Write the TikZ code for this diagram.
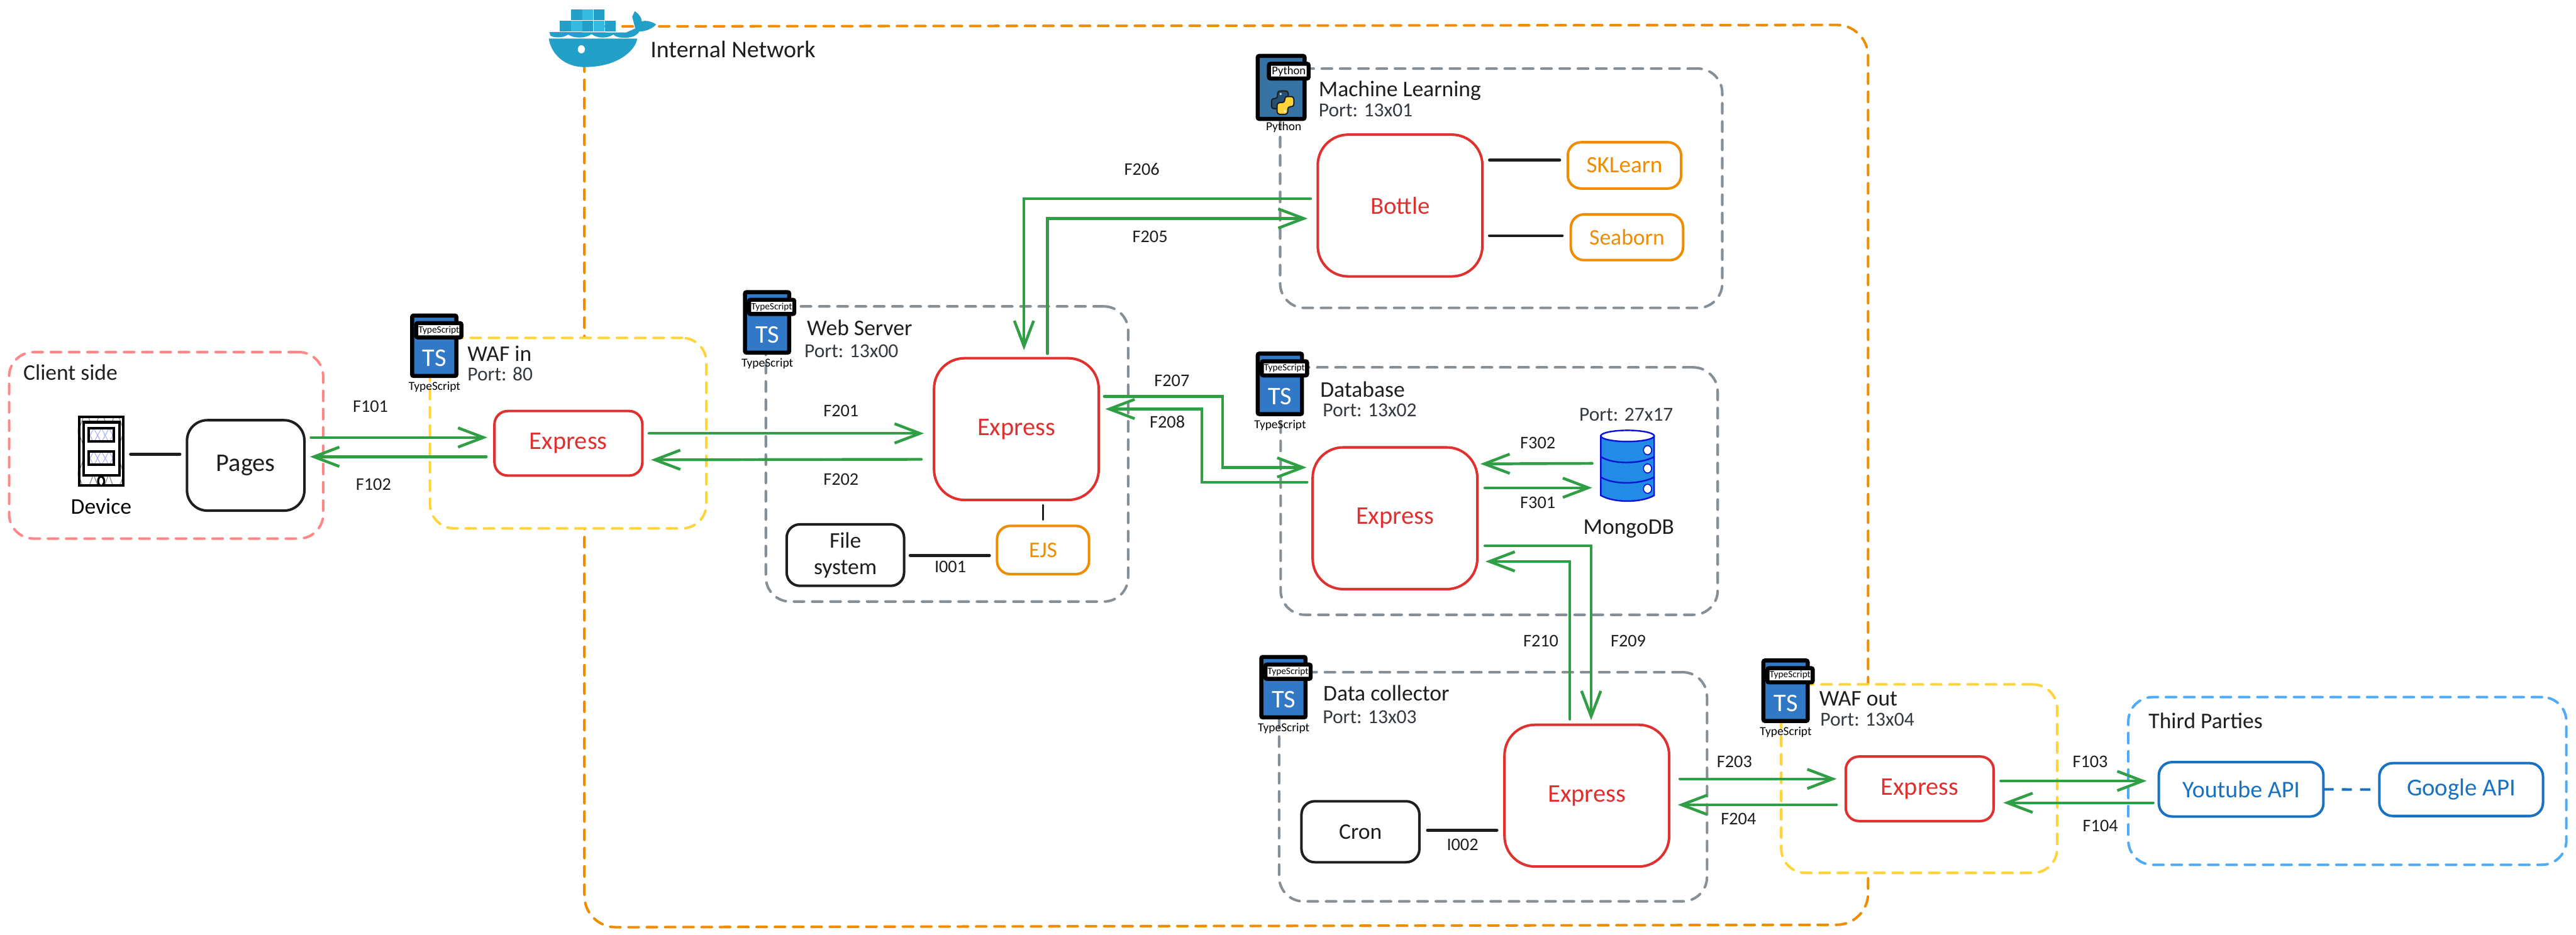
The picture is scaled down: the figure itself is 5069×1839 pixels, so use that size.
\documentclass[tikz,border=0pt]{standalone}
\usepackage{fontspec}
\setmainfont{Carlito}
\usetikzlibrary{arrows.meta}
\definecolor{ink}{HTML}{1E1E1E}
\definecolor{portink}{HTML}{343A40}
\definecolor{flowgreen}{HTML}{2F9E44}
\definecolor{exred}{HTML}{E03131}
\definecolor{exorange}{HTML}{F08C00}
\definecolor{exgray}{HTML}{868E96}
\definecolor{exyellow}{HTML}{FFD43B}
\definecolor{expink}{HTML}{FF8787}
\definecolor{exsky}{HTML}{4DABF7}
\definecolor{exblue}{HTML}{1971C2}
\definecolor{tsblue}{HTML}{3178C6}
\definecolor{pyblue}{HTML}{3673A5}
\definecolor{whaledark}{HTML}{23A0C8}
\definecolor{whalelight}{HTML}{35BBE0}
\definecolor{dbfill}{HTML}{228BE6}
\definecolor{dbline}{HTML}{0A11D8}
\tikzset{
  every node/.style={outer sep=0pt,inner sep=0pt},
  zone/.style={draw=#1,line width=5pt,rounded corners=48pt,dash pattern=on 20pt off 16pt,line cap=round},
  box/.style={draw=#1,text=#1,line width=5pt,fill=white,font=\fontsize{44}{52}\selectfont,align=center},
  bigbox/.style={box=exred,rounded corners=60pt,minimum width=324pt,minimum height=279pt,font=\fontsize{50}{58}\selectfont},
  expressbox/.style={box=exred,rounded corners=26pt,minimum width=291pt,minimum height=127pt,font=\fontsize{50}{58}\selectfont},
  smallbox/.style={box=#1,rounded corners=26pt},
  title/.style={anchor=west,text=ink,font=\fontsize{44}{52}\selectfont},
  porttext/.style={anchor=west,text=portink,font=\fontsize{39}{46}\selectfont},
  flowlabel/.style={text=ink,font=\fontsize{35}{42}\selectfont},
  flow/.style={draw=flowgreen,line width=5.5pt,line cap=round,-{Straight Barb[length=50pt,width=38pt]}},
  link/.style={draw=ink,line width=6pt,line cap=round},
  iconframe/.style={draw=black,line width=8pt,rounded corners=3pt},
  pics/tsicon/.style={code={
    \path[iconframe,fill=tsblue] (4,4) rectangle (91,123);
    \node[text=white,font=\fontsize{50}{60}\selectfont] at (48,88) {TS};
    \node[iconframe,fill=white,minimum width=89pt,minimum height=28pt,font=\fontsize{19}{22}\selectfont,text=black] at (56.5,33) {TypeScript};
    \node[text=black,font=\fontsize{24}{28}\selectfont] at (48,145) {TypeScript};
  }},
  pics/pyicon/.style={code={
    \path[iconframe,fill=pyblue] (4,4) rectangle (96,128);
    \begin{scope}[shift={(53,96)}]
      \path[draw=ink,line width=2.5pt,fill=pyblue!70!black,rounded corners=5pt] (-10,-23) -- (11,-23) -- (11,0) -- (-4,0) -- (-4,12) -- (-22,12) -- (-22,-8) -- (-10,-8) -- cycle;
      \path[draw=ink,line width=2.5pt,fill=exyellow,rounded corners=5pt] (10,23) -- (-11,23) -- (-11,0) -- (4,0) -- (4,-12) -- (22,-12) -- (22,8) -- (10,8) -- cycle;
      \fill[white] (-4,-17) circle (2.2);
      \fill[white] (4,17) circle (2.2);
    \end{scope}
    \node[iconframe,fill=white,minimum width=78pt,minimum height=29pt,font=\fontsize{23}{26}\selectfont,text=black] at (65,34) {Python};
    \node[text=black,font=\fontsize{24}{28}\selectfont] at (55,145) {Python};
  }},
}
\begin{document}
\begin{tikzpicture}[x=1pt,y=-1pt]
\useasboundingbox[fill=white] (0,0) rectangle (5069,1839);

% internal network frame
\draw[draw=exorange,line width=5pt,rounded corners=62pt,dash pattern=on 20pt off 16pt,line cap=round]
  (1189,52) -- (3676,49) -- (3676,1820) -- (1150,1825) -- (1150,132);

% zones
\node[zone=expink,minimum width=618pt,minimum height=367pt] (clientzone) at (327,876.5) {};
\node[zone=exyellow,fill=white,minimum width=544pt,minimum height=375pt] (wafinzone) at (1118,852.5) {};
\node[zone=exgray,minimum width=713pt,minimum height=581pt] (webzone) at (1863.5,893.5) {};
\node[zone=exgray,minimum width=870pt,minimum height=471pt] (mlzone) at (2954,370.5) {};
\node[zone=exgray,minimum width=860pt,minimum height=487pt] (dbzone) at (2950,966.5) {};
\node[zone=exgray,minimum width=842pt,minimum height=451pt] (dczone) at (2938,1548.5) {};
\node[zone=exyellow,fill=white,minimum width=543pt,minimum height=371pt] (wafoutzone) at (3776.5,1532.5) {};
\node[zone=exsky,minimum width=862pt,minimum height=330pt] (thirdzone) at (4619,1537) {};

% docker whale
\begin{scope}
  \foreach \cx/\cc in {1124/whaledark,1146/whalelight,1168/whaledark} \fill[\cc] (\cx,19) rectangle ++(21.5,21);
  \foreach \cx/\cc in {1102/whaledark,1124/whalelight,1146/whaledark,1168/whalelight,1190/whaledark} \fill[\cc] (\cx,41) rectangle ++(21.5,21);
  \fill[whaledark] (1081,63) -- (1232,64) -- (1250,56) -- (1244,33) -- (1249,22) .. controls (1258,28) and (1262,34) .. (1263,42) .. controls (1270,40) and (1280,41) .. (1291,48) .. controls (1285,56) and (1270,62) .. (1258,62) -- (1256,65) .. controls (1248,72) .. (1235,74) .. controls (1220,75) and (1212,73) .. (1207,68) .. controls (1195,76) and (1175,76) .. (1164,67) .. controls (1152,76) and (1130,76) .. (1118,68) .. controls (1108,75) and (1090,75) .. (1083,70) -- cycle;
  \fill[whaledark] (1080,76) -- (1254,76) .. controls (1250,100) and (1215,132) .. (1150,132) .. controls (1110,132) and (1084,105) .. (1080,76) -- cycle;
  \fill[white] (1144,97) ellipse (7 and 8);
\end{scope}
\node[title,font=\fontsize{47}{54}\selectfont] (internal) at (1280,97) {Internal Network};

% client side
\node[title] (clientlabel) at (46,733) {Client side};
\node (device) [minimum width=92pt,minimum height=140pt] at (199,888) {};
\begin{scope}
  \clip (153,818) rectangle (245,958);
  \foreach \k in {-160,-130,...,260} {
    \draw[exgray,line width=1.5pt] (153+\k,818) -- (153+\k+50,958);
    \draw[exgray,line width=1.5pt] (245-\k,818) -- (245-\k-50,958);
  }
\end{scope}
\draw[black,line width=5pt] (155.5,820.5) rectangle (242.5,955.5);
\draw[black,line width=5pt,fill=white] (165,831) rectangle (235,935);
\foreach \sy in {842,887} {
  \begin{scope}
    \clip (174,\sy) rectangle (225,\sy+28);
    \foreach \k in {-20,-5,...,50} {
      \draw[blue!35,line width=1.2pt] (174+\k,\sy) -- (174+\k+15,\sy+28);
      \draw[blue!35,line width=1.2pt] (225-\k,\sy) -- (225-\k-15,\sy+28);
    }
  \end{scope}
  \draw[black,line width=5pt] (175,\sy+1) rectangle (224,\sy+27);
}
\draw[black,line width=4pt,fill=white] (199,947) ellipse (6 and 9);
\node[text=black,font=\fontsize{44}{52}\selectfont] (devicelabel) at (199,997) {Device};
\node[box=ink,rounded corners=40pt,minimum width=231pt,minimum height=178pt,font=\fontsize{50}{58}\selectfont] (pages) at (483.5,916) {Pages};

% inner nodes
\node[expressbox] (wafinE) at (1118.5,872.5) {Express};
\node[bigbox] (expWeb) at (2000,844.5) {Express};
\node[bigbox,font=\fontsize{48}{56}\selectfont] (bottle) at (2755,404.5) {Bottle};
\node[bigbox] (expDb) at (2745,1020) {Express};
\node[bigbox] (expDc) at (3122.5,1566) {Express};
\node[expressbox] (wafoutE) at (3777.5,1552.5) {Express};
\node[smallbox=exorange,minimum width=223pt,minimum height=91pt,font=\fontsize{46}{54}\selectfont] (sklearn) at (3196.5,325.5) {SKLearn};
\node[smallbox=exorange,minimum width=221pt,minimum height=90pt] (seaborn) at (3201.5,467) {Seaborn};
\node[smallbox=exorange,minimum width=181pt,minimum height=95pt] (ejs) at (2052.5,1082.5) {EJS};
\node[smallbox=ink,minimum width=231pt,minimum height=121pt] (fs) at (1663.5,1092.5) {File\\system};
\node[smallbox=ink,minimum width=232pt,minimum height=120pt] (cron) at (2677,1637) {Cron};
\node[smallbox=exblue,minimum width=324pt,minimum height=107pt,font=\fontsize{47}{54}\selectfont] (youtube) at (4410,1553.5) {Youtube API};
\node[smallbox=exblue,minimum width=322pt,minimum height=104pt,font=\fontsize{48}{56}\selectfont] (google) at (4843,1554) {Google API};

% mongo
\node (mongo) [minimum width=107pt,minimum height=137pt] at (3202.5,916.5) {};
\path[draw=dbline,line width=3pt,fill=dbfill] (3150,858) -- (3150,975) .. controls (3175,990) and (3230,990) .. (3255,975) -- (3255,858) -- cycle;
\draw[dbline,line width=3pt,fill=white] (3202.5,858) ellipse (52.5 and 11);
\foreach \by in {903,943} \draw[dbline,line width=3pt] (3150,\by-4) .. controls (3175,\by+12) and (3230,\by+10) .. (3255,\by-4);
\foreach \by in {886,922,962} \draw[dbline,line width=2pt,fill=white] (3242,\by) ellipse (8 and 9);
\node[porttext,anchor=center] (mongoport) at (3200,816) {Port: 27x17};
\node[text=ink,font=\fontsize{44}{52}\selectfont] (mongolabel) at (3205,1041) {MongoDB};

% icons
\pic (ic1) at (807,617) {tsicon};
\pic (ic2) at (1462,571) {tsicon};
\pic (ic3) at (2471,106) {pyicon};
\pic (ic4) at (2471,692) {tsicon};
\pic (ic5) at (2478,1289) {tsicon};
\pic (ic6) at (3466,1296) {tsicon};

% titles
\node[title] (t1) at (920,696) {WAF in};
\node[porttext] (p1) at (920,736) {Port: 80};
\node[title] (t2) at (1588,645) {Web Server};
\node[porttext] (p2) at (1583,691) {Port: 13x00};
\node[title] (t3) at (2595,178) {Machine Learning};
\node[porttext] (p3) at (2595,217) {Port: 13x01};
\node[title] (t4) at (2598,766) {Database};
\node[porttext] (p4) at (2603,807) {Port: 13x02};
\node[title] (t5) at (2604,1364) {Data collector};
\node[porttext] (p5) at (2603,1411) {Port: 13x03};
\node[title] (t6) at (3580,1375) {WAF out};
\node[porttext] (p6) at (3582,1416) {Port: 13x04};
\node[title] (t7) at (4228,1418) {Third Parties};

% plain links
\draw[link] ([shift={(12pt,-6pt)}]device.east) -- ([shift={(-14pt,22pt)}]pages.west);
\draw[link] ([shift={(14pt,89.5pt)}]bottle.east) -- ([shift={(-16pt,10.5pt)}]sklearn.west);
\draw[link] ([shift={(14pt,-59.5pt)}]bottle.east) -- ([shift={(-17pt,3pt)}]seaborn.west);
\draw[link,line width=4pt] ([shift={(52.5pt,-10pt)}]expWeb.south) -- ([shift={(0pt,12pt)}]ejs.north);
\draw[link] ([shift={(12pt,-0.5pt)}]fs.east) -- ([shift={(-15pt,-10.5pt)}]ejs.west);
\draw[link] ([shift={(16pt,3pt)}]cron.east) -- ([shift={(-15pt,-68pt)}]expDc.west);
\draw[draw=exblue,line width=5pt,dash pattern=on 20pt off 16pt] (youtube.east) -- ([xshift=-18pt]google.west);

% flows
\draw[flow] ([shift={(13pt,55pt)}]pages.east) -- ([shift={(-14pt,11.5pt)}]wafinE.west);
\draw[flow] ([shift={(-16pt,-26.5pt)}]wafinE.west) -- ([shift={(11pt,17pt)}]pages.east);
\draw[flow] ([shift={(13pt,19.5pt)}]wafinE.east) -- ([shift={(-20pt,-8.5pt)}]expWeb.west);
\draw[flow] ([shift={(-25pt,-59.5pt)}]expWeb.west) -- ([shift={(17pt,-32.5pt)}]wafinE.east);
\draw[flow] ([shift={(-14pt,13.5pt)}]bottle.west) -| ([shift={(15pt,16pt)}]expWeb.north);
\draw[flow] ([shift={(61pt,9pt)}]expWeb.north) |- ([shift={(-20pt,-25.5pt)}]bottle.west);
\draw[flow] ([shift={(11pt,64.5pt)}]expWeb.east) -- ++(233pt,0pt) |- ([shift={(-12pt,100pt)}]expDb.west);
\draw[flow] ([shift={(-11pt,71pt)}]expDb.west) -- ++(-207pt,0pt) |- ([shift={(13pt,39.5pt)}]expWeb.east);
\draw[flow] ([shift={(15pt,60pt)}]expDb.east) -- ([shift={(-16pt,-43.5pt)}]mongo.west);
\draw[flow] ([shift={(-16pt,4.5pt)}]mongo.west) -- ([shift={(6pt,107pt)}]expDb.east);
\draw[flow] ([shift={(15pt,-54pt)}]expDb.east) -| ([shift={(8.5pt,9pt)}]expDc.north);
\draw[flow] ([shift={(-33.5pt,11pt)}]expDc.north) |- ([shift={(16pt,-85pt)}]expDb.east);
\draw[flow] ([shift={(21pt,33pt)}]expDc.east) -- ([shift={(-18pt,19.5pt)}]wafoutE.west);
\draw[flow] ([shift={(-18pt,-31.5pt)}]wafoutE.west) -- ([shift={(17pt,-18pt)}]expDc.east);
\draw[flow] ([shift={(14pt,15.5pt)}]wafoutE.east) -- ([shift={(-24pt,16.5pt)}]youtube.west);
\draw[flow] ([shift={(-11pt,-26.5pt)}]youtube.west) -- ([shift={(19pt,-27.5pt)}]wafoutE.east);

% flow labels
\node[flowlabel] (f101) at (729,800) {F101};
\node[flowlabel] (f102) at (735,953) {F102};
\node[flowlabel] (f201) at (1655,809) {F201};
\node[flowlabel] (f202) at (1655,943) {F202};
\node[flowlabel] (f206) at (2247,333) {F206};
\node[flowlabel] (f205) at (2263,466) {F205};
\node[flowlabel] (f207) at (2306,749) {F207};
\node[flowlabel] (f208) at (2297,830) {F208};
\node[flowlabel] (f302) at (3026,872) {F302};
\node[flowlabel] (f301) at (3026,989) {F301};
\node[flowlabel] (f210) at (3032,1261) {F210};
\node[flowlabel] (f209) at (3204,1261) {F209};
\node[flowlabel] (f203) at (3413,1499) {F203};
\node[flowlabel] (f204) at (3421,1612) {F204};
\node[flowlabel] (f103) at (4113,1499) {F103};
\node[flowlabel] (f104) at (4133,1626) {F104};
\node[flowlabel] (i001) at (1870,1116) {I001};
\node[flowlabel] (i002) at (2878,1663) {I002};
\end{tikzpicture}
\end{document}
